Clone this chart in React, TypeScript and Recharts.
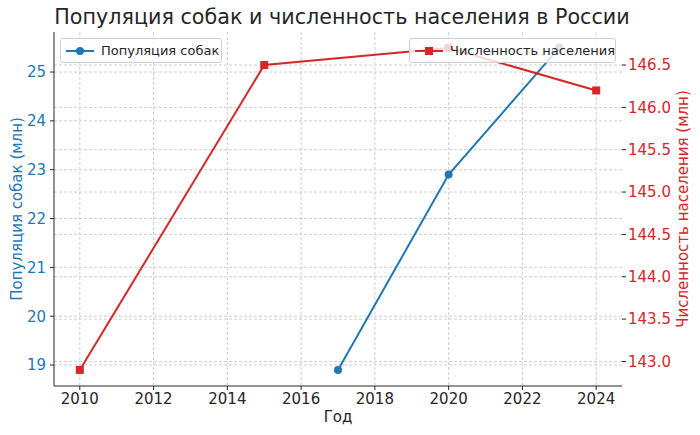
import { LineChart, Line, XAxis, YAxis, CartesianGrid, Label } from "recharts";

const dogYears = [2017, 2020, 2023];
const dogValues = [18.9, 22.9, 25.5];
const popYears = [2010, 2015, 2020, 2024];
const popValues = [142.9, 146.5, 146.7, 146.2];
const xTicks = [2010, 2012, 2014, 2016, 2018, 2020, 2022, 2024];
const leftTicks = [19, 20, 21, 22, 23, 24, 25];
const rightTicks = [143.0, 143.5, 144.0, 144.5, 145.0, 145.5, 146.0, 146.5];

const dogName = "Популяция собак";
const popName = "Численность населения";

const BLUE = "#1f77b4";
const RED = "#d62728";
const FONT = "'DejaVu Sans', sans-serif";

const years = Array.from(new Set([...dogYears, ...popYears])).sort((a, b) => a - b);
const data = years.map((year) => {
  const di = dogYears.indexOf(year);
  const pi = popYears.indexOf(year);
  return {
    year,
    dogs: di >= 0 ? dogValues[di] : null,
    pop: pi >= 0 ? popValues[pi] : null,
  };
});

const SquareDot = (props: any) => {
  const { cx, cy, payload } = props;
  if (payload.pop == null || cx == null) return null;
  return <rect x={cx - 4} y={cy - 4} width={8} height={8} fill={RED} />;
};

const LegendBox = ({ left, width, color, name, square }: any) => (
  <div
    style={{
      position: "absolute",
      left,
      top: 38,
      width,
      height: 25,
      border: "1px solid #d0d0d0",
      borderRadius: 3,
      background: "rgba(255,255,255,0.8)",
      display: "flex",
      alignItems: "center",
      fontFamily: FONT,
      fontSize: 13,
      color: "#262626",
      boxSizing: "border-box",
      whiteSpace: "nowrap",
    }}
  >
    <svg width={28} height={20} style={{ marginLeft: 5, flex: "none" }}>
      <line x1={0} y1={10} x2={28} y2={10} stroke={color} strokeWidth={2} />
      {square ? (
        <rect x={10} y={6} width={8} height={8} fill={color} />
      ) : (
        <circle cx={14} cy={10} r={4} fill={color} />
      )}
    </svg>
    <span style={{ marginLeft: 7 }}>{name}</span>
  </div>
);

const rotatedLabel = (text: string, color: string, dx: number) => (props: any) => {
  const { viewBox } = props;
  const cx = viewBox.x + dx;
  const cy = viewBox.y + viewBox.height / 2;
  return (
    <text
      x={cx}
      y={cy}
      fill={color}
      fontSize={15}
      fontFamily={FONT}
      textAnchor="middle"
      dominantBaseline="central"
      transform={`rotate(-90, ${cx}, ${cy})`}
    >
      {text}
    </text>
  );
};

export default function App() {
  return (
    <div style={{ position: "absolute", left: 0, top: 0, width: 700, height: 435, background: "#fff" }}>
      <div
        style={{
          position: "absolute",
          left: 44,
          top: 5,
          width: 596,
          textAlign: "center",
          fontFamily: FONT,
          fontSize: 20.7,
          color: "#262626",
          whiteSpace: "nowrap",
        }}
      >
        Популяция собак и численность населения в России
      </div>
      <LineChart
        width={700}
        height={435}
        data={data}
        margin={{ top: 32, right: 0, left: 0, bottom: 0 }}
        style={{ fontFamily: FONT }}
      >
        <CartesianGrid yAxisId="left" stroke="#cfcfcf" strokeDasharray="3 2" horizontalValues={leftTicks} verticalValues={xTicks} />
        <CartesianGrid yAxisId="right" stroke="#cfcfcf" strokeDasharray="3 2" vertical={false} horizontalValues={rightTicks} />
        <XAxis
          dataKey="year"
          type="number"
          domain={[2009.3, 2024.7]}
          ticks={xTicks}
          height={49}
          tickSize={4}
          tickMargin={3}
          stroke="#262626"
          tick={{ fill: "#262626", fontSize: 15 }}
          allowDataOverflow
        >
          <Label
            content={(props: any) => {
              const { viewBox } = props;
              return (
                <text
                  x={viewBox.x + viewBox.width / 2}
                  y={viewBox.y + 31}
                  fill="#262626"
                  fontSize={15}
                  fontFamily={FONT}
                  textAnchor="middle"
                  dominantBaseline="central"
                >
                  Год
                </text>
              );
            }}
          />
        </XAxis>
        <YAxis
          yAxisId="left"
          width={54}
          domain={[18.57, 25.82]}
          ticks={leftTicks}
          tickSize={4}
          tickMargin={4}
          stroke="#262626"
          tick={{ fill: BLUE, fontSize: 15 }}
          allowDataOverflow
        >
          <Label content={rotatedLabel("Популяция собак (млн)", BLUE, 17)} />
        </YAxis>
        <YAxis
          yAxisId="right"
          orientation="right"
          width={78}
          domain={[142.71, 146.89]}
          ticks={rightTicks}
          tickFormatter={(v: number) => v.toFixed(1)}
          tickSize={4}
          tickMargin={2}
          axisLine={false}
          stroke="#262626"
          tick={{ fill: RED, fontSize: 15 }}
          allowDataOverflow
        >
          <Label content={rotatedLabel("Численность населения (млн)", RED, 61)} />
        </YAxis>
        <Line
          yAxisId="left"
          dataKey="dogs"
          name={dogName}
          stroke={BLUE}
          strokeWidth={2}
          connectNulls
          dot={{ r: 4, fill: BLUE, stroke: BLUE, strokeWidth: 0 }}
          isAnimationActive={false}
        />
        <Line
          yAxisId="right"
          dataKey="pop"
          name={popName}
          stroke={RED}
          strokeWidth={2}
          connectNulls
          dot={<SquareDot />}
          isAnimationActive={false}
        />
      </LineChart>
      <LegendBox left={60} width={162} color={BLUE} name={dogName} />
      <LegendBox left={409} width={207} color={RED} name={popName} square />
    </div>
  );
}
